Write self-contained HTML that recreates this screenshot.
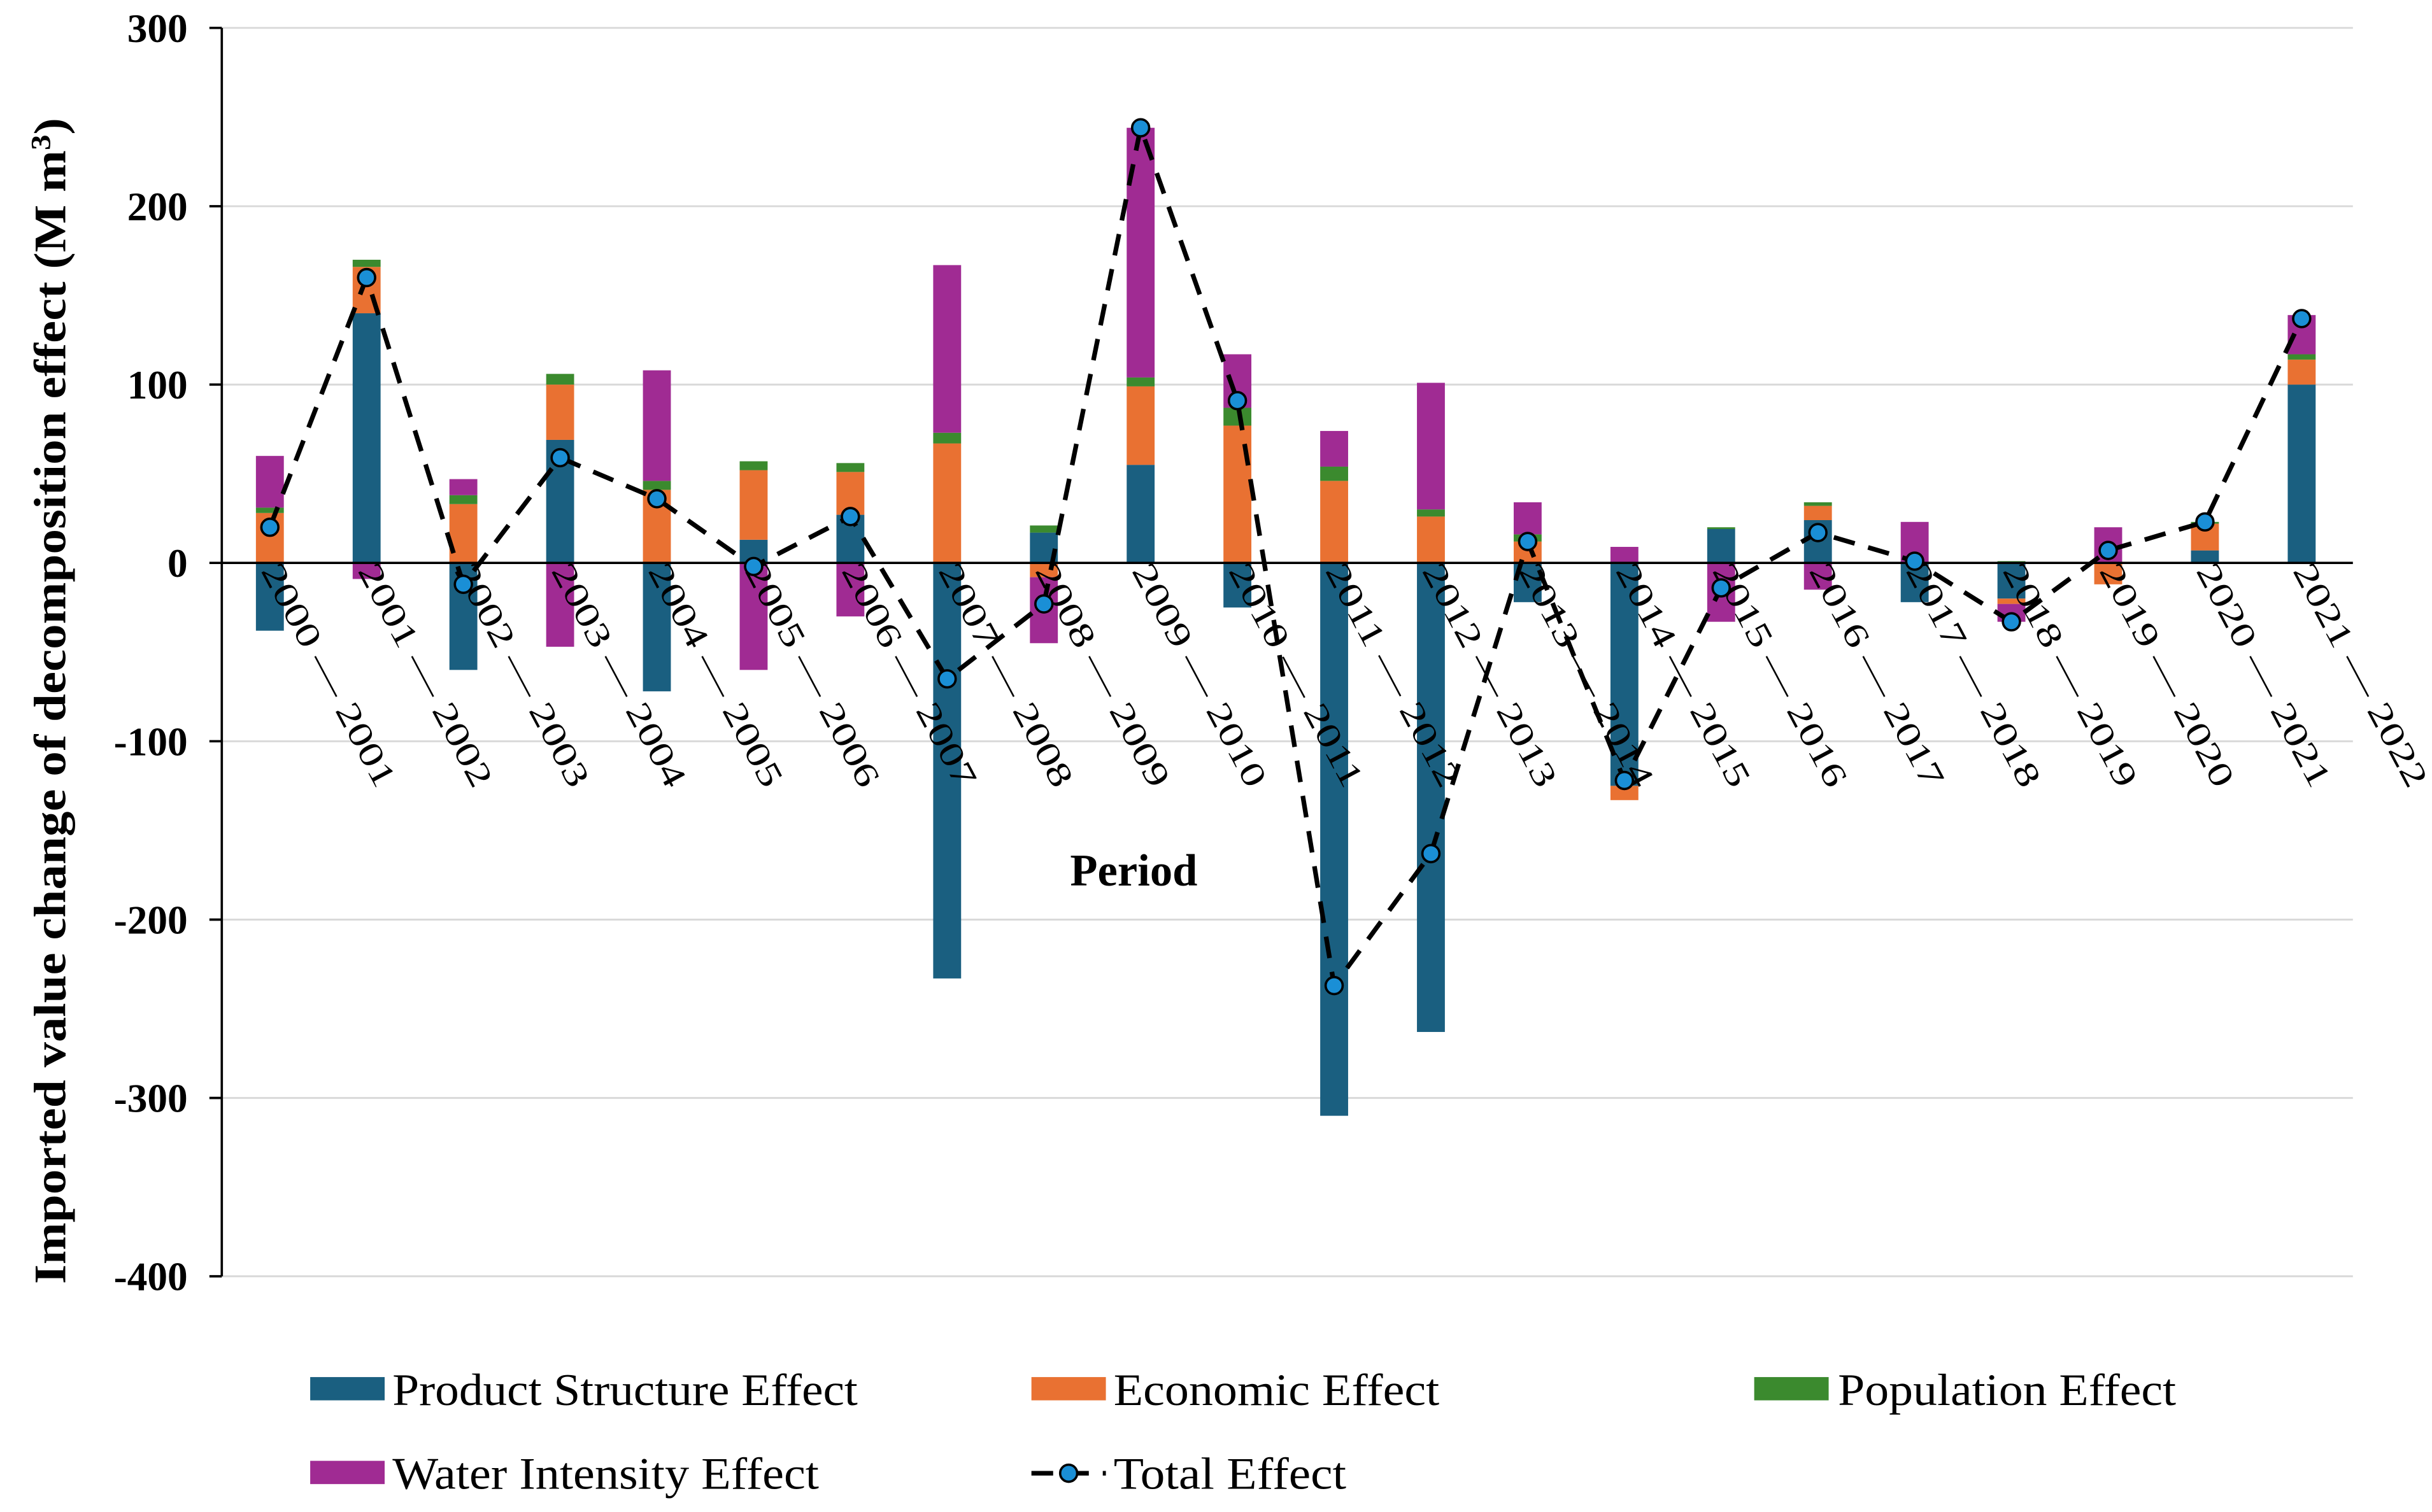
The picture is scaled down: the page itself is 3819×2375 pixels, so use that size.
<!DOCTYPE html>
<html><head><meta charset="utf-8"><style>
html,body{margin:0;padding:0;background:#fff;}
svg{display:block;font-family:"Liberation Serif",serif;}
</style></head><body>
<svg id="chart" width="3819" height="2375" viewBox="0 0 1568 975" preserveAspectRatio="none" xmlns="http://www.w3.org/2000/svg">
<g id="grid"></g>
<g id="bars"></g>
<g id="axes"></g>
<g id="xlabels"></g>
<g id="line"></g>
<text transform="translate(42,452) rotate(-90)" text-anchor="middle" font-size="29" font-weight="bold" textLength="752" lengthAdjust="spacingAndGlyphs">Imported value change of decomposition effect (M m<tspan baseline-shift="super" font-size="18">3</tspan>)</text>
<text x="731" y="571" text-anchor="middle" font-size="29" font-weight="bold">Period</text>
<g font-size="29">
<rect x="200" y="888" width="48" height="15" fill="#1a5f80"/>
<text x="253" y="906" textLength="300" lengthAdjust="spacingAndGlyphs">Product Structure Effect</text>
<rect x="665" y="888" width="48" height="15" fill="#e97132"/>
<text x="718" y="906" textLength="210" lengthAdjust="spacingAndGlyphs">Economic Effect</text>
<rect x="1131" y="888" width="48" height="15" fill="#3b8a2e"/>
<text x="1185" y="906" textLength="218" lengthAdjust="spacingAndGlyphs">Population Effect</text>
<rect x="200" y="942" width="48" height="15" fill="#a02b93"/>
<text x="253" y="960" textLength="275" lengthAdjust="spacingAndGlyphs">Water Intensity Effect</text>
<line x1="665" y1="950" x2="713" y2="950" stroke="#000" stroke-width="3" stroke-dasharray="14,9"/>
<circle cx="689" cy="950" r="5.5" fill="#1a8fd6" stroke="#000" stroke-width="1.5"/>
<text x="718" y="960" textLength="150" lengthAdjust="spacingAndGlyphs">Total Effect</text>
</g>
</svg>
<script>
const categories = ["2000 — 2001","2001 — 2002","2002 — 2003","2003 — 2004","2004 — 2005","2005 — 2006","2006 — 2007","2007 — 2008","2008 — 2009","2009 — 2010","2010 — 2011","2011 — 2012","2012 — 2013","2013 — 2014","2014 — 2015","2015 — 2016","2016 — 2017","2017 — 2018","2018 — 2019","2019 — 2020","2020 — 2021","2021 — 2022"];
const productStructure = [-38,140,-60,69,-72,13,27,-233,17,55,-25,-310,-263,-22,-125,19,24,-22,-20,0,7,100];
const economic = [28,26,33,31,41,39,24,67,-8,44,77,46,26,12,-8,0,8,0,-3,-12,15,14];
const population = [3,4,5,6,5,5,5,6,4,5,10,8,4,4,0,1,2,0,1,0,1,3];
const waterIntensity = [29,-9,9,-47,62,-60,-30,94,-37,140,30,20,71,18,9,-33,-15,23,-10,20,0,22];
const totalEffect = [20,160,-12,59,36,-2,26,-65,-23,244,91,-237,-163,12,-122,-14,17,1,-33,7,23,137];
const yTicks = [300,200,100,0,-100,-200,-300,-400];

const NS="http://www.w3.org/2000/svg";
const X0=143, X1=1517, firstC=174, step=62.38, BW=18;
const yScale=v=>363 - v*1.15;
const xScale=i=>firstC + i*step;
function mk(tag,attrs,parent){const e=document.createElementNS(NS,tag);for(const k in attrs)e.setAttribute(k,attrs[k]);parent.appendChild(e);return e;}
const grid=document.getElementById('grid'), axes=document.getElementById('axes'), bars=document.getElementById('bars'), xl=document.getElementById('xlabels'), line=document.getElementById('line');

yTicks.forEach(t=>{
  const y=yScale(t);
  if(t!==0){const g=mk('line',{x1:X0,x2:X1,y1:y,y2:y,stroke:'#d9d9d9','stroke-width':1.2},grid);
  
  }
  const tk=mk('line',{x1:X0-8,x2:X0,y1:y,y2:y,stroke:'#000','stroke-width':1.5},axes);
  
  
  const tx=mk('text',{x:121,y:y+9,'text-anchor':'end','font-size':26,'font-weight':'bold'},axes);
  tx.textContent=t;
  
  
});
const ya=mk('line',{x1:X0,x2:X0,y1:yScale(300),y2:yScale(-400),stroke:'#000','stroke-width':1.5},axes);



const series=[[productStructure,'#1a5f80','product'],[economic,'#e97132','economic'],[population,'#3b8a2e','population'],[waterIntensity,'#a02b93','water']];
categories.forEach((c,i)=>{
  let pos=0,neg=0;const cx=xScale(i);
  series.forEach(([arr,col,nm])=>{
    const v=arr[i]; if(!v) return;
    let a,b; if(v>0){a=pos;b=pos+v;pos=b;}else{a=neg;b=neg+v;neg=b;}
    const yt=yScale(Math.max(a,b)), yb=yScale(Math.min(a,b));
    const r=mk('rect',{x:cx-BW/2,y:yt,width:BW,height:yb-yt,fill:col},bars);
    
    
  });
  const t=mk('text',{x:0,y:0,'font-size':22,transform:`translate(${cx-6},${368}) rotate(62)`,textLength:160,lengthAdjust:'spacingAndGlyphs'},xl);
  t.textContent=c;
  
  
});
const za=mk('line',{x1:X0,x2:X1,y1:yScale(0),y2:yScale(0),stroke:'#000','stroke-width':1.5},axes);



const pts=totalEffect.map((v,i)=>xScale(i)+','+yScale(v)).join(' ');
const pl=mk('polyline',{points:pts,fill:'none',stroke:'#000','stroke-width':3,'stroke-dasharray':'14,9'},line);


totalEffect.forEach((v,i)=>{
  const c=mk('circle',{cx:xScale(i),cy:yScale(v),r:5.5,fill:'#1a8fd6',stroke:'#000','stroke-width':1.5},line);
  
  
});
</script>
</body></html>
